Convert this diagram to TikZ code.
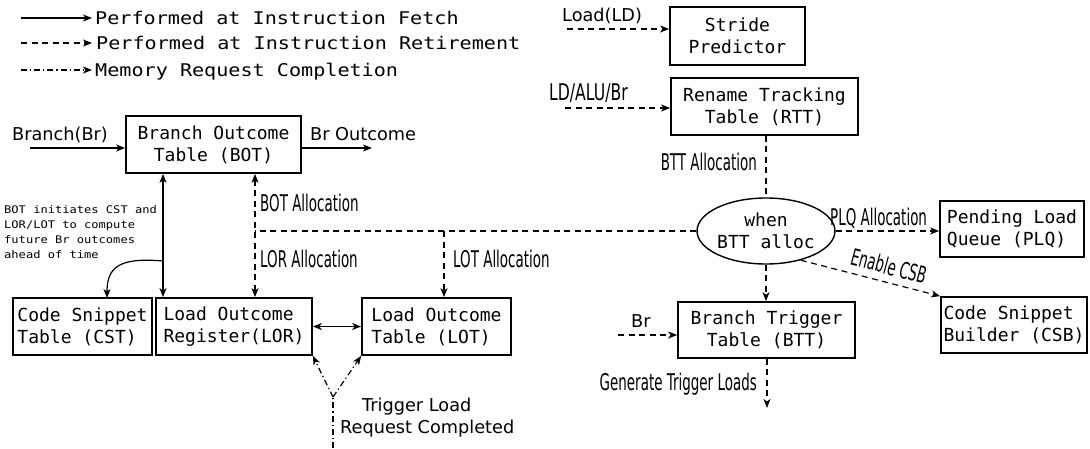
\documentclass[tikz,border=0pt]{standalone}
\usepackage{fontspec}
\setmainfont{DejaVu Sans}
\newfontfamily\monof{DejaVu Sans Mono}
\usetikzlibrary{arrows.meta,shapes.geometric}
\newcommand\myhs[2]{\scalebox{#1}[1]{#2}}
\newcommand\cnd[2][0.585]{\myhs{#1}{\fontsize{23}{27}\selectfont #2}}
\begin{document}
\begin{tikzpicture}[x=1pt,y=-1pt,
  box/.style={draw, line width=1.7pt, inner sep=0pt, minimum height=57pt,
    font=\monof\fontsize{18}{22}\selectfont},
  tip/.style={-{Stealth[length=9pt,width=7pt,inset=2.5pt]}},
  btip/.style={{Stealth[length=9pt,width=7pt,inset=2.5pt]}-{Stealth[length=9pt,width=7pt,inset=2.5pt]}},
  conn/.style={line width=1.2pt},
  ret/.style={conn, dash pattern=on 6pt off 4.5pt},
  mem/.style={conn, dash pattern=on 6pt off 3pt on 1.2pt off 3pt},
  lab/.style={inner sep=0pt, font=\fontsize{17.7}{21}\selectfont},
  clab/.style={inner sep=0pt}
]
\useasboundingbox (0,0) rectangle (1090,448);

% legend
\coordinate (lg1a) at (21,18); \coordinate (lg1b) at (92,18);
\coordinate (lg2a) at (21,43); \coordinate (lg2b) at (92,43);
\coordinate (lg3a) at (21,70); \coordinate (lg3b) at (92,70);
\draw[conn,tip] (lg1a) -- (lg1b);
\draw[ret,tip] (lg2a) -- (lg2b);
\draw[mem,tip] (lg3a) -- (lg3b);
\node[inner sep=0pt, anchor=base west] (lgt1) at (95,24) {\myhs{1.15}{\monof\fontsize{17.5}{20}\selectfont Performed at Instruction Fetch}};
\node[inner sep=0pt, anchor=base west] (lgt2) at (96,49.3) {\myhs{1.15}{\monof\fontsize{17.5}{20}\selectfont Performed at Instruction Retirement}};
\node[inner sep=0pt, anchor=base west] (lgt3) at (95,76) {\myhs{1.15}{\monof\fontsize{17.5}{20}\selectfont Memory Request Completion}};

% boxes
\node[box, minimum width=175pt, align=center] (bot) at (213.5,144.5) {Branch Outcome\\Table (BOT)};
\node[box, minimum width=139pt, align=left] (cst) at (82.5,326.5) {Code Snippet\\Table (CST)};
\node[box, minimum width=156pt, align=left] (lor) at (234,326.5) {Load Outcome\\Register(LOR)};
\node[box, minimum width=149pt, align=left] (lot) at (436.5,326.5) {Load Outcome\\Table (LOT)};
\node[box, minimum width=135pt, minimum height=58pt, align=center] (stride) at (737.5,36) {Stride\\Predictor};
\node[box, minimum width=187pt, align=center] (rtt) at (764.5,106.5) {Rename Tracking\\Table (RTT)};
\node[box, minimum width=144pt, minimum height=56pt, align=left] (plq) at (1012,229) {Pending Load\\Queue (PLQ)};
\node[box, minimum width=146pt, minimum height=56pt, align=left] (csb) at (1014,325) {Code Snippet\\Builder (CSB)};
\node[box, minimum width=177pt, minimum height=56pt, align=center] (btt) at (766.5,330) {Branch Trigger\\Table (BTT)};
\node[ellipse, draw, line width=1.4pt, minimum width=112pt, minimum height=66pt, inner sep=0pt,
  align=center, font=\monof\fontsize{18}{22}\selectfont] (ell) at (766,231) {when\\BTT alloc};

% coordinates
\coordinate (brin) at (30,148);
\coordinate (brout) at (372,148);
\coordinate (sj) at (163,261);
\coordinate (cstin) at (107,298);
\coordinate (j1) at (255,231);
\coordinate (lotj) at (444,231);
\coordinate (ldin) at (567,29);
\coordinate (aluin) at (565,108);
\coordinate (bttin) at (618,335);
\coordinate (gen) at (767,408);
\coordinate (yap) at (333,397);
\coordinate (ybot) at (333,448);

% left part
\draw[conn,tip] (brin) -- (brin -| bot.west);
\draw[conn,tip] (brout -| bot.east) -- (brout);
\draw[conn,btip] (bot.south -| sj) -- (lor.north -| sj);
\draw[conn,tip] (sj) .. controls (118,257) and (107,268) .. (cstin);
\draw[ret,btip] (bot.south -| j1) -- (lor.north -| j1);
\draw[ret] (ell.west) -- (j1);
\draw[ret,tip] (lotj) -- (lotj |- lot.north);
\draw[conn,btip] (lor.east) -- (lot.west);
\draw[mem] (ybot) -- (yap);
\draw[mem,tip] (yap) -- (lor.south east);
\draw[mem,tip] (yap) -- (lot.south west);

% right part
\draw[ret,tip] (ldin) -- (ldin -| stride.west);
\draw[ret,tip] (aluin) -- (aluin -| rtt.west);
\draw[ret] (rtt.south -| ell.north) -- (ell.north);
\draw[ret,tip] (ell.east) -- (ell.east -| plq.west);
\draw[ret,tip] (ell.-40) -- (csb.north west);
\draw[ret,tip] (ell.south) -- (ell.south |- btt.north);
\draw[ret,tip] (bttin) -- (bttin -| btt.west);
\draw[ret,tip] (btt.south -| gen) -- (gen);

% labels
\node[lab, anchor=base west] (lbr) at (12,140) {Branch(Br)};
\node[lab, anchor=base west] (lbro) at (310,140) {Br Outcome};
\node[inner sep=0pt, anchor=base west] (lnote) at (4,213.3) {\monof\fontsize{10.5}{15}\selectfont\myhs{1.15}{\begin{tabular}[t]{@{}l@{}}BOT initiates CST and\\LOR/LOT to compute\\future Br outcomes\\ahead of time\end{tabular}}};
\node[clab, anchor=base west] (lbota) at (260,211) {\cnd{BOT Allocation}};
\node[clab, anchor=base west] (llora) at (260,267) {\cnd{LOR Allocation}};
\node[clab, anchor=base west] (llota) at (453,267) {\cnd{LOT Allocation}};
\node[lab, anchor=base west] (ltl) at (362,411) {Trigger Load};
\node[lab, anchor=base west] (lrc) at (340,433) {Request Completed};
\node[lab, anchor=base west] (lld) at (562,21.7) {Load(LD)};
\node[clab, anchor=base west] (lalu) at (549,100) {\cnd[0.68]{LD/ALU/Br}};
\node[clab, anchor=base east] (lbtta) at (757,170) {\cnd{BTT Allocation}};
\node[clab, anchor=base west] (lplqa) at (830,225) {\cnd{PLQ Allocation}};
\node[clab, rotate=-15] (lcsb) at (889,266) {\cnd{Enable CSB}};
\node[lab, anchor=base west] (lbr2) at (631,327) {Br};
\node[clab, anchor=base east] (lgen) at (757,390) {\cnd{Generate Trigger Loads}};
\end{tikzpicture}
\end{document}
